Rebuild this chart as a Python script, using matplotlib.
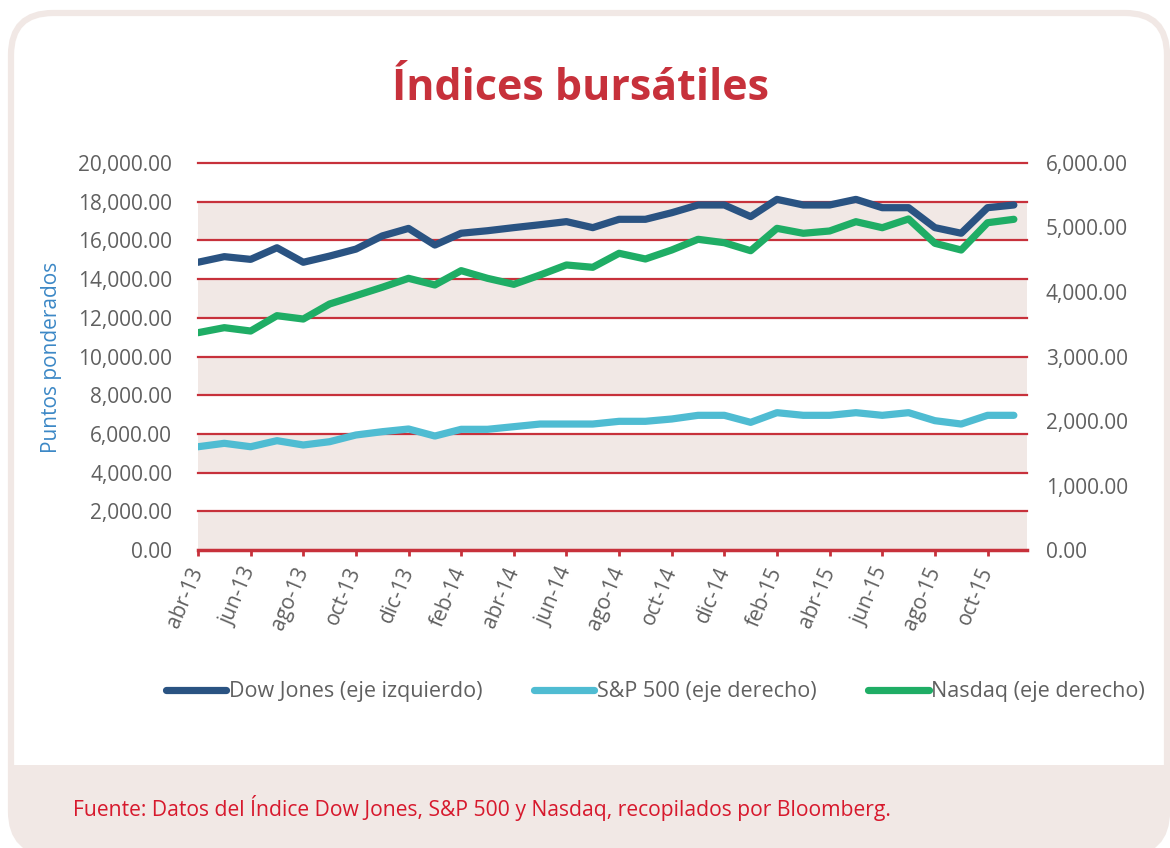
import matplotlib
matplotlib.use("Agg")
import matplotlib.pyplot as plt
from matplotlib.patches import FancyBboxPatch, Rectangle
from matplotlib.lines import Line2D
from matplotlib.ticker import FuncFormatter, FixedLocator

plt.rcParams['font.family'] = ['Open Sans', 'DejaVu Sans']

months = ["abr-13", "may-13", "jun-13", "jul-13", "ago-13", "sep-13", "oct-13", "nov-13", "dic-13",
          "ene-14", "feb-14", "mar-14", "abr-14", "may-14", "jun-14", "jul-14", "ago-14", "sep-14",
          "oct-14", "nov-14", "dic-14", "ene-15", "feb-15", "mar-15", "abr-15", "may-15", "jun-15",
          "jul-15", "ago-15", "sep-15", "oct-15", "nov-15"]

dow = [14870, 15160, 15020, 15620, 14870, 15190, 15550, 16230, 16620, 15760, 16370, 16500,
       16660, 16810, 16970, 16660, 17090, 17090, 17430, 17830, 17830, 17230, 18120, 17830,
       17830, 18120, 17690, 17690, 16660, 16370, 17690, 17830]

sp500 = [1601, 1654, 1601, 1695, 1628, 1679, 1783, 1834, 1876, 1767, 1871, 1871, 1912, 1953,
         1953, 1953, 1995, 1995, 2031, 2088, 2088, 1979, 2129, 2088, 2088, 2129, 2088, 2129,
         2005, 1953, 2088, 2088]

nasdaq = [3369, 3447, 3395, 3633, 3581, 3814, 3943, 4073, 4212, 4109, 4331, 4212, 4119, 4264,
          4419, 4383, 4600, 4512, 4651, 4817, 4764, 4640, 4987, 4910, 4946, 5090, 4997, 5132,
          4755, 4651, 5074, 5127]

left_ticks = [0, 2000, 4000, 6000, 8000, 10000, 12000, 14000, 16000, 18000, 20000]
right_ticks = [0, 1000, 2000, 3000, 4000, 5000, 6000]

title = "Índices bursátiles"
ylabel = "Puntos ponderados"
source = "Fuente: Datos del Índice Dow Jones, S&P 500 y Nasdaq, recopilados por Bloomberg."
legend_labels = ["Dow Jones (eje izquierdo)", "S&P 500 (eje derecho)", "Nasdaq (eje derecho)"]

C_DOW = "#2a5382"
C_SP = "#4fbcd2"
C_NAS = "#1fad65"
C_RED = "#c7313b"
C_BAND = "#f1e8e5"
C_TEXT = "#606060"

W, H = 1170, 848
fig = plt.figure(figsize=(W / 100, H / 100), dpi=100)

# background card in pixel coordinates
bg = fig.add_axes([0, 0, 1, 1], zorder=0)
bg.set_xlim(0, W)
bg.set_ylim(H, 0)
bg.axis("off")
card = FancyBboxPatch((11, 13), 1156, 840, boxstyle="round,pad=0,rounding_size=42",
                      facecolor="white", edgecolor=C_BAND, linewidth=4.5)
bg.add_patch(card)
foot = Rectangle((0, 765), W, 120, facecolor=C_BAND, edgecolor="none")
bg.add_patch(foot)
foot.set_clip_path(card)

# main axes
L, R, T, B = 198, 1027, 163, 550
ax = fig.add_axes([L / W, 1 - B / H, (R - L) / W, (B - T) / H], zorder=2)
ax.patch.set_alpha(0)
x = list(range(len(months)))
ax.set_xlim(0, 31.5)
ax.set_ylim(0, 20000)
for i in range(0, len(left_ticks) - 1, 2):
    ax.axhspan(left_ticks[i], left_ticks[i + 1], color=C_BAND, zorder=0, lw=0)
for v in left_ticks[1:]:
    ax.axhline(v, color=C_RED, lw=1.6, zorder=1, clip_on=False)
ax.yaxis.set_major_locator(FixedLocator(left_ticks))
ax.yaxis.set_major_formatter(FuncFormatter(lambda v, p: f"{v:,.2f}"))
for s in ["top", "left", "right"]:
    ax.spines[s].set_visible(False)
ax.spines["bottom"].set_color(C_RED)
ax.spines["bottom"].set_linewidth(2.5)
ax.tick_params(axis="y", length=0, pad=18.5, labelsize=15, labelcolor=C_TEXT)
tick_pos = x[::2]
ax.set_xticks(tick_pos)
ax.set_xticklabels([months[i] for i in tick_pos], rotation=67, ha="right",
                   va="center", rotation_mode="anchor")
ax.tick_params(axis="x", length=4, width=2, color=C_RED, labelsize=15,
               labelcolor=C_TEXT, pad=9)
ax.plot(x, dow, color=C_DOW, lw=5.2, solid_capstyle="round", solid_joinstyle="round", zorder=5)

ax2 = ax.twinx()
ax2.set_ylim(0, 6000)
ax2.yaxis.set_major_locator(FixedLocator(right_ticks))
ax2.yaxis.set_major_formatter(FuncFormatter(lambda v, p: f"{v:,.2f}"))
for s in ax2.spines.values():
    s.set_visible(False)
ax2.tick_params(axis="y", length=0, pad=13.5, labelsize=15, labelcolor=C_TEXT)
ax2.plot(x, sp500, color=C_SP, lw=5.2, solid_capstyle="round", solid_joinstyle="round", zorder=5)
ax2.plot(x, nasdaq, color=C_NAS, lw=5.2, solid_capstyle="round", solid_joinstyle="round", zorder=5)

fig.text(52 / W, 1 - 357 / H, ylabel, rotation=90, ha="center", va="center",
         fontsize=15, color="#3c88c6")
fig.text(580 / W, 1 - 89 / H, title, ha="center", va="center", fontsize=31,
         fontweight="bold", color=C_RED)

handles = [Line2D([], [], color=c, lw=5.2, solid_capstyle="round") for c in (C_DOW, C_SP, C_NAS)]
fig.legend(handles, legend_labels, ncol=3, loc="center", bbox_to_anchor=(655.5 / W, 1 - 692 / H),
           frameon=False, fontsize=15.5, labelcolor=C_TEXT, handlelength=2.8,
           handletextpad=0.12, columnspacing=2.4)

fig.text(73 / W, 1 - 808 / H, source, ha="left", va="center", fontsize=15.2, color="#d7192d")

fig.savefig("out.png", dpi=100)
